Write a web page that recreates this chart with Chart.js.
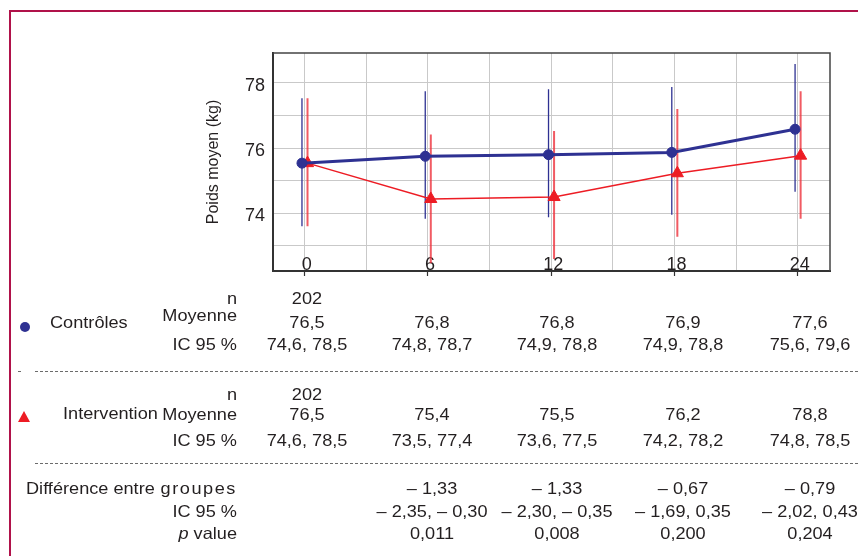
<!DOCTYPE html>
<html>
<head>
<meta charset="utf-8">
<script src="https://cdn.jsdelivr.net/npm/chart.js@4/dist/chart.umd.min.js"></script>
<style>
  html, body { margin: 0; padding: 0; background: #fff; }
  #wrap { position: relative; width: 858px; height: 556px; overflow: hidden; background: #fff;
          font-family: "Liberation Sans", Arial, sans-serif; color: #231F20; }
  #c { position: absolute; left: 0; top: 0; }
  #frame { position: absolute; left: 9px; top: 10px; width: 849px; height: 546px;
           border-top: 2px solid #B0124A; border-left: 2px solid #B0124A; box-sizing: border-box; }
  .a { position: absolute; width: 0; height: 0; transform: scaleX(1.1); transform-origin: 0 0; }
  .a span { position: absolute; top: -10px; line-height: 20px; font-size: 16.5px; white-space: nowrap; }
  .a.r span { right: 0; }
  .a.l span { left: 0; }
  .a.c span { left: 0; transform: translateX(-50%); }
  .dash { position: absolute; height: 1px;
          background: repeating-linear-gradient(to right, #6b6b6b 0 3px, transparent 3px 5px); }
</style>
</head>
<body>
<div id="wrap">
  <canvas id="c" width="858" height="556"></canvas>
  <div id="frame"></div>
</div>
<script>
// ---- chart data ----
const months   = [0, 6, 12, 18, 24];
const ctrlMean = [75.54, 75.75, 75.80, 75.87, 76.58];
const ctrlLo   = [73.60, 73.83, 73.88, 73.96, 74.66];
const ctrlHi   = [77.53, 77.75, 77.81, 77.88, 78.58];
const intMean  = [75.54, 74.44, 74.50, 75.23, 75.77];
const intLo    = [73.60, 72.47, 72.60, 73.28, 73.83];
const intHi    = [77.53, 76.42, 76.53, 77.20, 77.75];
const xTickLabels = ['0', '6', '12', '18', '24'];
const yTickLabels = ['74', '76', '78'];

// ---- table data ----
const ctrlN    = ['202', '', '', '', ''];
const ctrlMoy  = ['76,5', '76,8', '76,8', '76,9', '77,6'];
const ctrlIC   = ['74,6, 78,5', '74,8, 78,7', '74,9, 78,8', '74,9, 78,8', '75,6, 79,6'];
const intN     = ['202', '', '', '', ''];
const intMoy   = ['76,5', '75,4', '75,5', '76,2', '78,8'];
const intIC    = ['74,6, 78,5', '73,5, 77,4', '73,6, 77,5', '74,2, 78,2', '74,8, 78,5'];
const diffVal  = ['', '– 1,33', '– 1,33', '– 0,67', '– 0,79'];
const diffIC   = ['', '– 2,35, – 0,30', '– 2,30, – 0,35', '– 1,69, 0,35', '– 2,02, 0,43'];
const pVal     = ['', '0,011', '0,008', '0,200', '0,204'];

const BLUE = '#2E3192';
const RED = '#ED1C24';
const FONT = '"Liberation Sans", Arial, sans-serif';
const ctrlShift = -0.13, intShift = 0.14;

function errData(lo, hi, shift) {
  const out = [];
  months.forEach((m, i) => {
    out.push({x: m + shift, y: lo[i]});
    out.push({x: m + shift, y: hi[i]});
    out.push({x: m + shift, y: null});
  });
  return out;
}

const boxPlugin = {
  id: 'box',
  beforeDatasetsDraw(chart) {
    const {ctx, chartArea: a} = chart;
    ctx.save();
    ctx.strokeStyle = '#444';
    ctx.lineWidth = 1.5;
    ctx.beginPath();
    ctx.moveTo(a.left, a.top);
    ctx.lineTo(a.right, a.top);
    ctx.lineTo(a.right, a.bottom);
    ctx.stroke();
    ctx.restore();
  }
};

new Chart(document.getElementById('c'), {
  type: 'line',
  data: {
    datasets: [
      { label: 'Contrôles',
        data: months.map((m, i) => ({x: m + ctrlShift, y: ctrlMean[i]})),
        borderColor: BLUE, backgroundColor: BLUE, borderWidth: 3,
        pointRadius: 5, pointBorderWidth: 1, pointHoverRadius: 5, order: 0 },
      { label: 'Intervention',
        data: months.map((m, i) => ({x: m + intShift, y: intMean[i]})),
        borderColor: RED, backgroundColor: RED, borderWidth: 1.5,
        pointStyle: 'triangle', pointRadius: 7, pointBorderWidth: 1, pointHoverRadius: 7, order: 1 },
      { label: 'IC 95 % Intervention', data: errData(intLo, intHi, intShift),
        borderColor: 'rgba(238,50,60,0.8)', borderWidth: 2, pointRadius: 0, spanGaps: false, order: 2 },
      { label: 'IC 95 % Contrôles', data: errData(ctrlLo, ctrlHi, ctrlShift),
        borderColor: BLUE, borderWidth: 1.3, pointRadius: 0, spanGaps: false, order: 3 }
    ]
  },
  options: {
    responsive: false,
    animation: false,
    events: [],
    layout: { padding: { left: 195, top: 53, right: 28, bottom: 280 } },
    plugins: { legend: { display: false }, tooltip: { enabled: false } },
    scales: {
      x: {
        type: 'linear', min: -1.54, max: 25.57,
        afterFit: s => { s.height = 5; },
        border: { color: '#333', width: 2 },
        grid: { color: '#C9C9C9', lineWidth: 1, tickLength: 5, drawTicks: true,
                tickColor: c => (c.tick && xTickLabels.includes(String(c.tick.value))) ? '#333' : 'rgba(0,0,0,0)',
                tickWidth: 1.2 },
        ticks: { stepSize: 3, includeBounds: false, autoSkip: false, maxRotation: 0,
                 mirror: true, padding: -5, labelOffset: 2, color: '#231F20',
                 font: { family: FONT, size: 18 },
                 callback: v => xTickLabels.includes(String(v)) ? String(v) : '' }
      },
      y: {
        type: 'linear', min: 72.23, max: 78.92,
        afterFit: s => { s.width = 78; },
        border: { color: '#333', width: 2 },
        grid: { color: '#C9C9C9', lineWidth: 1, drawTicks: false },
        ticks: { stepSize: 1, includeBounds: false, padding: 8, labelOffset: 3, color: '#231F20',
                 font: { family: FONT, size: 18 },
                 callback: v => yTickLabels.includes(String(v)) ? String(v) : '' },
        title: { display: true, text: 'Poids moyen (kg)', color: '#231F20',
                 font: { family: FONT, size: 16 }, padding: { top: 8.5, bottom: 0 } }
      }
    }
  },
  plugins: [boxPlugin]
});

// ---- table below the chart ----
const wrap = document.getElementById('wrap');
const colX = [307, 432, 557, 683, 810];
function put(text, x, y, align, html, extra) {
  const d = document.createElement('div');
  d.className = 'a ' + align;
  d.style.left = x + 'px';
  d.style.top = y + 'px';
  const s = document.createElement('span');
  if (html) s.innerHTML = text; else s.textContent = text;
  if (extra) s.style.cssText += extra;
  d.appendChild(s);
  wrap.appendChild(d);
}
function row(arr, y) { arr.forEach((t, i) => { if (t) put(t, colX[i], y, 'c'); }); }
function dash(x1, x2, y) {
  const d = document.createElement('div');
  d.className = 'dash';
  d.style.left = x1 + 'px'; d.style.width = (x2 - x1) + 'px'; d.style.top = y + 'px';
  wrap.appendChild(d);
}
const LBL = 237;
// Contrôles
put('n', LBL, 298, 'r');        row(ctrlN, 298);
put('Moyenne', LBL, 315, 'r');  row(ctrlMoy, 322);
put('Contrôles', 50, 322, 'l');
put('IC 95 %', LBL, 344, 'r');  row(ctrlIC, 344);
dash(18, 23, 371); dash(35, 858, 371);
// Intervention
put('n', LBL, 393.5, 'r');      row(intN, 393.5);
put('Intervention', 63, 413, 'l');
put('Moyenne', LBL, 414, 'r');  row(intMoy, 414);
put('IC 95 %', LBL, 439.5, 'r'); row(intIC, 439.5);
dash(35, 858, 463);
// Différence
put('Différence entre', 26, 488, 'l');
put('groupes', LBL, 488, 'r', false, 'letter-spacing:1.4px;');
put('IC 95 %', LBL, 511, 'r');  row(diffIC, 511);
row(diffVal, 488);
put('<i>p</i> value', LBL, 533, 'r', true); row(pVal, 533);

// legend markers
const dot = document.createElement('div');
dot.style.cssText = 'position:absolute;left:20px;top:322px;width:10px;height:10px;border-radius:50%;background:' + BLUE;
wrap.appendChild(dot);
const tri = document.createElement('div');
tri.style.cssText = 'position:absolute;left:18px;top:411px;width:0;height:0;border-left:6px solid transparent;border-right:6px solid transparent;border-bottom:11px solid ' + RED;
wrap.appendChild(tri);
</script>
</body>
</html>
